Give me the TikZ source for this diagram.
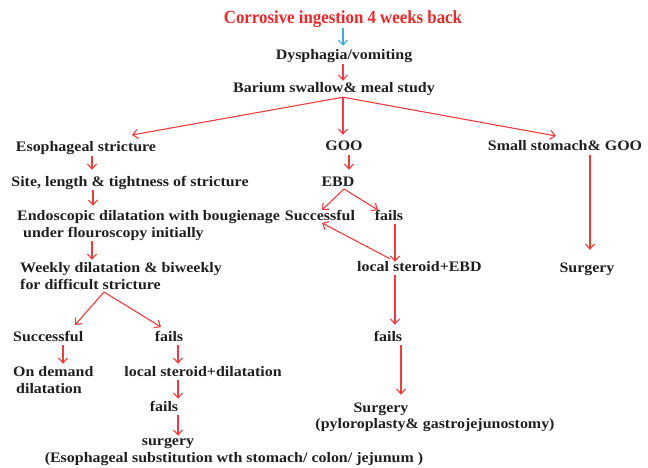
\documentclass[tikz,border=0pt]{standalone}
\usepackage{fontspec}
\setmainfont{Liberation Serif}
\newfontfamily\bodyfont[FakeStretch=1.1]{Liberation Serif}
\newfontfamily\titlefont[FakeStretch=0.91]{Liberation Serif}
\usetikzlibrary{arrows.meta}
\definecolor{tred}{RGB}{238,40,40}
\definecolor{lred}{RGB}{240,60,60}
\definecolor{lblue}{RGB}{60,170,230}
\begin{document}
\begin{tikzpicture}[x=1pt,y=-1pt,
  txt/.style={font=\bodyfont\fontsize{14.5}{17}\selectfont\bfseries, inner sep=0pt,
    text height=12pt, text depth=4pt, text=black!88, anchor=base},
  txtw/.style={txt, anchor=base west},
  ttl/.style={font=\titlefont\fontsize{18.5}{21}\selectfont\bfseries, inner sep=0pt,
    text height=13pt, text depth=4pt, text=tred, anchor=base},
  arr/.style={draw=lred, line width=1.1pt, -{Straight Barb[length=5pt,width=9pt]}}]
\useasboundingbox (0,0) rectangle (648,468);

% nodes
\node[ttl] (t) at (343,24) {Corrosive ingestion 4 weeks back};
\node[txt] (dys) at (344,60) {Dysphagia/vomiting};
\node[txt] (bar) at (334,93) {Barium swallow\& meal study};

\node[txt] (es) at (86,152) {Esophageal stricture};
\node[txt] (site) at (130,186) {Site, length \& tightness of stricture};
\node[txtw] (endo1) at (17,220) {Endoscopic dilatation with bougienage};
\node[txtw] (endo2) at (23,237) {under flouroscopy initially};
\node[txtw] (week1) at (20,272) {Weekly dilatation \& biweekly};
\node[txtw] (week2) at (20,289) {for difficult stricture};
\node[txtw] (succL) at (13,341) {Successful};
\node[txt] (failsL) at (169,341) {fails};
\node[txtw] (ond1) at (13,376) {On demand};
\node[txtw] (ond2) at (16,393) {dilatation};
\node[txt] (lsd) at (203,376) {local steroid+dilatation};
\node[txt] (fails2) at (164,411) {fails};
\node[txt] (surg1) at (168,445) {surgery};
\node[txt] (surg2) at (234,462) {(Esophageal substitution wth stomach/ colon/ jejunum )};

\node[txt] (goo) at (344,151) {GOO};
\node[txt] (ebd) at (338,186) {EBD};
\node[txt] (succM) at (320,220) {Successful};
\node[txt] (failsM) at (389,220) {fails};
\node[txtw] (lse) at (357,271) {local steroid+EBD};
\node[txt] (failsM2) at (388,341) {fails};
\node[txt] (surgM1) at (381,412) {Surgery};
\node[txt] (surgM2) at (435,428) {(pyloroplasty\& gastrojejunostomy)};

\node[txt] (small) at (565,151) {Small stomach\& GOO};
\node[txt] (surgR) at (587,272) {Surgery};

% helper coordinates
\coordinate (xt) at (343,0);
\coordinate (xa) at (92,0);
\coordinate (xb) at (93,0);
\coordinate (xc) at (63,0);
\coordinate (xd) at (178,0);
\coordinate (xe) at (349,0);
\coordinate (xf) at (395,0);
\coordinate (xg) at (390,0);
\coordinate (xh) at (401,0);
\coordinate (xi) at (590,0);
\coordinate (b1) at (bar.south -| xt);
\coordinate (tipES) at (132,135);
\coordinate (tipSS) at (556,136);
\coordinate (b2) at (104,292);
\coordinate (tipSL) at (75,325);
\coordinate (tipFL) at (161,327);
\coordinate (b3) at (344,189);
\coordinate (tipSM) at (322,210);
\coordinate (tipFM) at (378,210);
\coordinate (tipRet) at (322,223);

% connectors
\draw[arr, draw=lblue, shorten >=2pt] (t.south -| xt) -- (dys.north -| xt);
\draw[arr] (dys.south -| xt) -- (bar.north -| xt);
\draw[arr] (b1) -- (tipES);
\draw[arr, shorten >=4pt] (b1) -- (goo.north -| xt);
\draw[arr] (b1) -- (tipSS);

\draw[arr, shorten >=4pt] (es.south -| xa) -- (site.north -| xa);
\draw[arr, shorten >=2pt] (site.south -| xb) -- (endo1.north -| xb);
\draw[arr] (endo2.south -| xa) -- (week1.north -| xa);
\draw[arr] (b2) -- (tipSL);
\draw[arr] (b2) -- (tipFL);
\draw[arr] (succL.south -| xc) -- (ond1.north -| xc);
\draw[arr] (failsL.south -| xd) -- (lsd.north -| xd);
\draw[arr] (lsd.south -| xd) -- (fails2.north -| xd);
\draw[arr, shorten >=-3pt] (fails2.south -| xd) -- (surg1.north -| xd);

\draw[arr, shorten >=4pt] (goo.south -| xe) -- (ebd.north -| xe);
\draw[arr] (b3) -- (tipSM);
\draw[arr] (b3) -- (tipFM);
\draw[arr, shorten >=-3pt] (failsM.south -| xf) -- (lse.north -| xf);
\draw[arr] (lse.north -| xg) -- (tipRet);
\draw[arr, shorten >=4pt] (lse.south -| xf) -- (failsM2.north -| xf);
\draw[arr, shorten >=5pt] (failsM2.south -| xh) -- (surgM1.north -| xh);

\draw[arr, shorten >=10pt] (small.south -| xi) -- (surgR.north -| xi);
\end{tikzpicture}
\end{document}
